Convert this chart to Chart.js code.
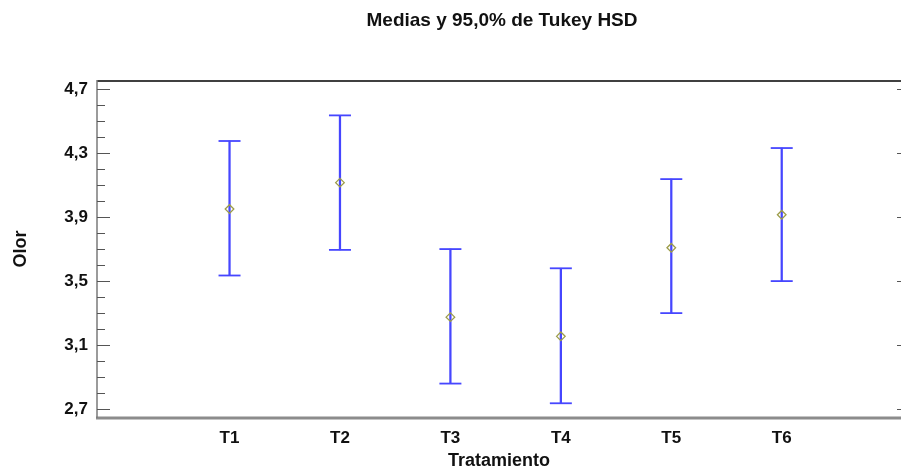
<!DOCTYPE html>
<html>
<head>
<meta charset="utf-8">
<script src="https://cdn.jsdelivr.net/npm/chart.js@4/dist/chart.umd.min.js"></script>
<style>
  html, body { margin: 0; padding: 0; background: #ffffff; }
  #wrap { width: 901px; height: 470px; position: relative; }
</style>
</head>
<body>
<div id="wrap"><canvas id="c" width="901" height="470"></canvas></div>
<script>
const chartTitle = 'Medias y 95,0% de Tukey HSD';
const xAxisTitle = 'Tratamiento';
const yAxisTitle = 'Olor';
const categories = ['T1', 'T2', 'T3', 'T4', 'T5', 'T6'];
const means = [3.95, 4.115, 3.275, 3.155, 3.708, 3.914];
const lowerLimits = [3.535, 3.695, 2.86, 2.737, 3.30, 3.50];
const upperLimits = [4.375, 4.535, 3.70, 3.58, 4.137, 4.331];
const yTickValues = [2.7, 3.1, 3.5, 3.9, 4.3, 4.7];

const FONT = "'Liberation Sans', Arial, sans-serif";
const BLUE = '#4646ff';

const stems = categories.map((c, i) => ({ x: i + 1, y: [lowerLimits[i], upperLimits[i]] }));
const caps = [];
categories.forEach((c, i) => {
  caps.push({ x: i + 1, y: lowerLimits[i] });
  caps.push({ x: i + 1, y: upperLimits[i] });
});
const meanPts = categories.map((c, i) => ({ x: i + 1, y: means[i] }));

const framePlugin = {
  id: 'frame',
  afterDraw(chart) {
    const ctx = chart.ctx;
    const a = chart.chartArea;
    const ys = chart.scales.y;
    ctx.save();
    // title centered over plot area
    ctx.fillStyle = '#111';
    ctx.font = 'bold 19px ' + FONT;
    ctx.textAlign = 'center';
    ctx.textBaseline = 'middle';
    ctx.fillText(chartTitle, (a.left + a.right) / 2 + 3, 21);
    // top border
    ctx.strokeStyle = '#404040';
    ctx.lineWidth = 2;
    ctx.beginPath();
    ctx.moveTo(a.left, a.top + 1);
    ctx.lineTo(a.right, a.top + 1);
    ctx.stroke();
    // bottom border
    ctx.strokeStyle = '#8c8c8c';
    ctx.lineWidth = 3;
    ctx.beginPath();
    ctx.moveTo(a.left - 1, a.bottom);
    ctx.lineTo(a.right, a.bottom);
    ctx.stroke();
    // left axis line
    ctx.strokeStyle = '#7a7a7a';
    ctx.lineWidth = 1.5;
    ctx.beginPath();
    ctx.moveTo(a.left, a.top);
    ctx.lineTo(a.left, a.bottom);
    ctx.stroke();
    // minor ticks (every 0.1)
    ctx.strokeStyle = '#555';
    ctx.lineWidth = 1;
    for (let k = 0; k <= 20; k++) {
      const v = yTickValues[0] + k * 0.1;
      const py = Math.round(ys.getPixelForValue(v)) + 0.5;
      const major = k % 4 === 0;
      ctx.beginPath();
      ctx.moveTo(a.left, py);
      ctx.lineTo(a.left + (major ? 13 : 8), py);
      ctx.stroke();
      if (major) {
        ctx.beginPath();
        ctx.moveTo(a.right - 4, py);
        ctx.lineTo(a.right, py);
        ctx.stroke();
      }
    }
    ctx.restore();
  }
};

new Chart(document.getElementById('c'), {
  data: {
    datasets: [
      {
        type: 'bar',
        data: stems,
        backgroundColor: BLUE,
        borderWidth: 0,
        barThickness: 1.6,
        order: 3
      },
      {
        type: 'scatter',
        data: caps,
        pointStyle: 'line',
        pointRadius: 11,
        pointHoverRadius: 11,
        borderColor: BLUE,
        pointBorderWidth: 1.8,
        borderWidth: 1.8,
        order: 2
      },
      {
        type: 'scatter',
        data: meanPts,
        pointStyle: 'rectRot',
        pointRadius: 4.3,
        pointHoverRadius: 4.3,
        borderColor: '#9c9c48',
        backgroundColor: 'rgba(255,255,255,0)',
        pointBorderWidth: 1.3,
        borderWidth: 1.3,
        order: 1
      }
    ]
  },
  options: {
    responsive: false,
    animation: false,
    layout: { autoPadding: false, padding: { top: 80, right: 0, left: 0, bottom: 0 } },
    plugins: {
      legend: { display: false },
      tooltip: { enabled: false },
      title: { display: false }
    },
    scales: {
      x: {
        type: 'linear',
        offset: false,
        min: -0.2,
        max: 7.08,
        grid: { display: false, drawTicks: false },
        border: { display: false },
        afterBuildTicks(scale) {
          scale.ticks = categories.map((c, i) => ({ value: i + 1 }));
        },
        afterFit(scale) {
          scale.height = 52;
          scale.paddingLeft = 0;
          scale.paddingRight = 0;
        },
        ticks: {
          autoSkip: false,
          maxRotation: 0,
          padding: 10,
          color: '#111',
          font: { family: FONT, size: 17, weight: 'bold' },
          callback: (v) => categories[Math.round(v) - 1] || ''
        },
        title: {
          display: true,
          text: xAxisTitle,
          color: '#111',
          padding: { top: 0, bottom: -2 },
          font: { family: FONT, size: 18, weight: 'bold' }
        }
      },
      y: {
        type: 'linear',
        min: 2.645,
        max: 4.756,
        grid: { display: false, drawTicks: false },
        border: { display: false },
        afterBuildTicks(scale) {
          scale.ticks = yTickValues.map(v => ({ value: v }));
        },
        afterFit(scale) {
          scale.width = 97;
          scale.paddingTop = 0;
          scale.paddingBottom = 0;
        },
        ticks: {
          padding: 9,
          color: '#111',
          font: { family: FONT, size: 17, weight: 'bold' },
          callback: (v) => Number(v).toFixed(1).replace('.', ',')
        },
        title: {
          display: true,
          text: yAxisTitle,
          color: '#111',
          padding: { top: 10, bottom: 0 },
          font: { family: FONT, size: 18, weight: 'bold' }
        }
      }
    }
  },
  plugins: [framePlugin]
});
</script>
</body>
</html>
